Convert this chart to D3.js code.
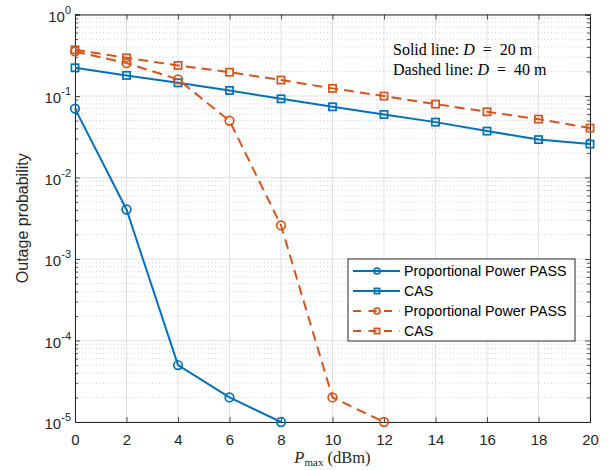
<!DOCTYPE html>
<html>
<head>
<meta charset="utf-8">
<script src="https://cdn.jsdelivr.net/npm/d3@7"></script>
<style>
  html, body { margin: 0; padding: 0; background: #fff; }
  svg { display: block; }
</style>
</head>
<body>
<svg id="chart" width="609" height="470"></svg>
<script>
// Transmit power budget (dBm)
const pmax = [0, 2, 4, 6, 8, 10, 12, 14, 16, 18, 20];

// Outage probability, D = 20 m
const passD20 = [0.07, 0.00405, 5e-5, 2e-5, 1e-5];
const casD20 = [0.222, 0.179, 0.145, 0.117, 0.0924, 0.0737, 0.0593, 0.0478, 0.0371, 0.0292, 0.0257];

// Outage probability, D = 40 m
const passD40 = [0.352, 0.253, 0.16, 0.0497, 0.00258, 2e-5, 1e-5];
const casD40 = [0.369, 0.294, 0.237, 0.196, 0.157, 0.124, 0.0998, 0.0795, 0.064, 0.052, 0.0404];

const xTicks = [0, 2, 4, 6, 8, 10, 12, 14, 16, 18, 20];
const yDecades = [0, -1, -2, -3, -4, -5];

const legendLabels = ["Proportional Power PASS", "CAS", "Proportional Power PASS", "CAS"];

const BLUE = "#0072BD";
const ORANGE = "#D95319";
const AXIS = "#262626";
const SANS = "'Liberation Sans', Arial, sans-serif";
const SERIF = "'Liberation Serif', 'Times New Roman', serif";

const series = [
  { values: passD20, color: BLUE, dashed: false, marker: "circle" },
  { values: casD20, color: BLUE, dashed: false, marker: "square" },
  { values: passD40, color: ORANGE, dashed: true, marker: "circle" },
  { values: casD40, color: ORANGE, dashed: true, marker: "square" }
];

const svg = d3.select("#chart");
const pL = 75, pR = 590, pT = 14.5, pB = 422;

const x = d3.scaleLinear().domain([0, 20]).range([pL, pR]);
const y = d3.scaleLog().domain([1e-5, 1]).range([pB, pT]);

// Minor log ticks (2..9 within each decade)
const minor = [];
for (let e = -5; e < 0; e++) {
  for (let m = 2; m <= 9; m++) minor.push(m * Math.pow(10, e));
}

const grid = svg.append("g");
// Minor horizontal grid (dotted)
grid.selectAll("line.minor").data(minor).join("line")
  .attr("x1", pL).attr("x2", pR)
  .attr("y1", d => y(d)).attr("y2", d => y(d))
  .attr("stroke", "#c4c4c4").attr("stroke-width", 0.8)
  .attr("stroke-dasharray", "1,2.5");
// Major grid
grid.selectAll("line.my").data(yDecades.map(e => Math.pow(10, e))).join("line")
  .attr("x1", pL).attr("x2", pR)
  .attr("y1", d => y(d)).attr("y2", d => y(d))
  .attr("stroke", "#e0e0e0").attr("stroke-width", 1);
grid.selectAll("line.mx").data(xTicks).join("line")
  .attr("y1", pT).attr("y2", pB)
  .attr("x1", d => x(d)).attr("x2", d => x(d))
  .attr("stroke", "#e0e0e0").attr("stroke-width", 1);

// Axes with inward ticks
const axB = d3.axisBottom(x).tickValues(xTicks).tickSize(-5).tickPadding(12).tickFormat(d3.format("d"));
const axT = d3.axisTop(x).tickValues(xTicks).tickSize(-5).tickFormat("");
const axL = d3.axisLeft(y).tickValues(yDecades.map(e => Math.pow(10, e))).tickSize(-5).tickFormat("");
const axR = d3.axisRight(y).tickValues(yDecades.map(e => Math.pow(10, e))).tickSize(-5).tickFormat("");
const axLm = d3.axisLeft(y).tickValues(minor).tickSize(-3).tickFormat("");
const axRm = d3.axisRight(y).tickValues(minor).tickSize(-3).tickFormat("");

function styleAxis(g) {
  g.select(".domain").attr("stroke", AXIS).attr("stroke-width", 1);
  g.selectAll(".tick line").attr("stroke", AXIS).attr("stroke-width", 0.8);
  g.selectAll(".tick text").attr("fill", AXIS)
    .style("font-family", SANS).style("font-size", "15px");
}

svg.append("g").attr("transform", `translate(0,${pB})`).call(axB).call(styleAxis);
svg.append("g").attr("transform", `translate(0,${pT})`).call(axT).call(styleAxis);
svg.append("g").attr("transform", `translate(${pL},0)`).call(axL).call(styleAxis);
svg.append("g").attr("transform", `translate(${pR},0)`).call(axR).call(styleAxis);
svg.append("g").attr("transform", `translate(${pL},0)`).call(axLm).call(styleAxis);
svg.append("g").attr("transform", `translate(${pR},0)`).call(axRm).call(styleAxis);

// Y tick labels as powers of ten
const yl = svg.append("g").style("font-family", SANS).attr("fill", AXIS);
yDecades.forEach(e => {
  const t = yl.append("text")
    .attr("x", pL - 4).attr("y", y(Math.pow(10, e)) + 7)
    .attr("text-anchor", "end");
  t.append("tspan").style("font-size", "15px").text("10");
  t.append("tspan").style("font-size", "11px").attr("dy", -8).text(String(e));
});

// Data lines and markers
const line = d3.line().x((d, i) => x(pmax[i])).y(d => y(d));
const marks = svg.append("g");
function drawMarker(g, kind, cx, cy, color, size) {
  if (kind === "circle") {
    g.append("circle").attr("cx", cx).attr("cy", cy).attr("r", size)
      .attr("fill", "none").attr("stroke", color).attr("stroke-width", 1.7);
  } else {
    g.append("rect").attr("x", cx - size).attr("y", cy - size)
      .attr("width", 2 * size).attr("height", 2 * size)
      .attr("fill", "none").attr("stroke", color).attr("stroke-width", 1.7);
  }
}
series.forEach(s => {
  marks.append("path").datum(s.values).attr("d", line)
    .attr("fill", "none").attr("stroke", s.color).attr("stroke-width", 2)
    .attr("stroke-dasharray", s.dashed ? "10,6" : null);
  s.values.forEach((v, i) => drawMarker(marks, s.marker, x(pmax[i]), y(v), s.color, s.marker === "circle" ? 4.3 : 3.6));
});

// Legend
const lg = svg.append("g");
const lx = 348, ly = 259, lw = 227, lh = 82;
lg.append("rect").attr("x", lx).attr("y", ly).attr("width", lw).attr("height", lh)
  .attr("fill", "#fff").attr("stroke", AXIS).attr("stroke-width", 1);
series.forEach((s, i) => {
  const yy = ly + 12 + i * 20;
  lg.append("line").attr("x1", lx + 5).attr("x2", lx + 52).attr("y1", yy).attr("y2", yy)
    .attr("stroke", s.color).attr("stroke-width", 2)
    .attr("stroke-dasharray", s.dashed ? "8,7.5" : null);
  drawMarker(lg, s.marker, lx + 29, yy, s.color, s.marker === "circle" ? 3 : 2.6);
  lg.append("text").attr("x", lx + 56).attr("y", yy + 5)
    .style("font-family", SANS).style("font-size", "14.3px")
    .attr("fill", "#000").text(legendLabels[i]);
});

// Annotation
const ann = svg.append("g").style("font-family", SERIF).style("font-size", "16px").attr("fill", "#000");
[["Solid line: ", "20"], ["Dashed line: ", "40"]].forEach((r, i) => {
  const t = ann.append("text").attr("x", 393).attr("y", 55 + i * 20).attr("xml:space", "preserve");
  t.append("tspan").text(r[0]);
  t.append("tspan").style("font-style", "italic").text("D");
  t.append("tspan").text("  =  " + r[1] + " m");
});

// Axis titles
svg.append("text")
  .attr("transform", `translate(28,${(pT + pB) / 2}) rotate(-90)`)
  .attr("text-anchor", "middle")
  .style("font-family", SANS).style("font-size", "16px")
  .attr("fill", AXIS).text("Outage probability");

const xt = svg.append("text")
  .attr("x", (pL + pR) / 2).attr("y", 463).attr("text-anchor", "middle")
  .style("font-family", SERIF).style("font-size", "16.5px").attr("fill", AXIS);
xt.append("tspan").style("font-style", "italic").text("P");
xt.append("tspan").style("font-size", "11px").attr("dy", 3).text("max");
xt.append("tspan").attr("dy", -3).text(" (dBm)");
</script>
</body>
</html>
